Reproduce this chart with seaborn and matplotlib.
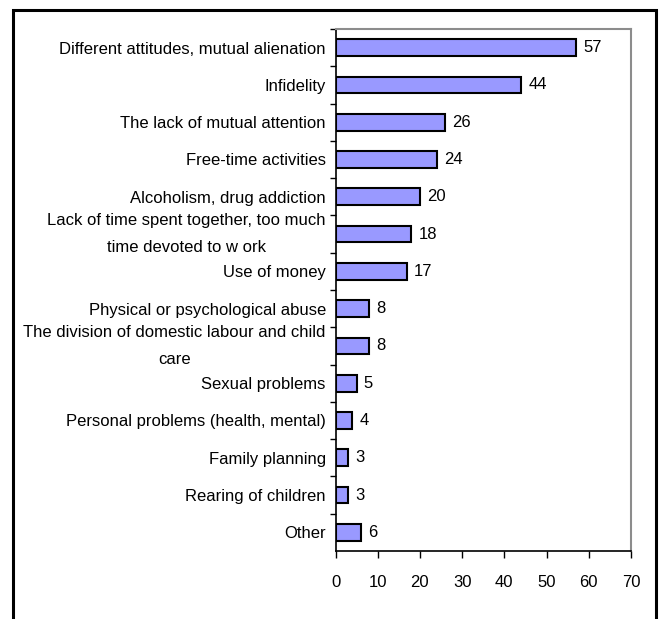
import matplotlib
matplotlib.use("Agg")
import matplotlib.pyplot as plt
import matplotlib.patches as patches
import seaborn as sns
import pandas as pd
import numpy as np

categories = [
    "Different attitudes, mutual alienation",
    "Infidelity",
    "The lack of mutual attention",
    "Free-time activities",
    "Alcoholism, drug addiction",
    "Lack of time spent together, too much\ntime devoted to w ork",
    "Use of money",
    "Physical or psychological abuse",
    "The division of domestic labour and child\ncare",
    "Sexual problems",
    "Personal problems (health, mental)",
    "Family planning",
    "Rearing of children",
    "Other",
]
values = [57, 44, 26, 24, 20, 18, 17, 8, 8, 5, 4, 3, 3, 6]
xticks = [0, 10, 20, 30, 40, 50, 60, 70]

sns.set_theme(style="white")
plt.rcParams["font.family"] = ["Liberation Sans", "DejaVu Sans"]
plt.rcParams["text.color"] = "black"
plt.rcParams["xtick.color"] = "black"
plt.rcParams["ytick.color"] = "black"
plt.rcParams["axes.labelcolor"] = "black"

df = pd.DataFrame({"cat": categories, "val": values})

fig = plt.figure(figsize=(6.62, 6.19), dpi=100)
ax = fig.add_axes([0.5068, 0.1099, 0.9532 - 0.5068, 0.9532 - 0.1099])

sns.barplot(data=df, y="cat", x="val", orient="h", color="#9999FF",
            edgecolor="black", linewidth=1.5, width=0.45, saturation=1, ax=ax)

ax.set_xlim(0, 70)
ax.set_ylim(len(categories) - 0.5, -0.5)
ax.set_xticks(xticks)
ax.set_xticklabels([str(t) for t in xticks], fontsize=12)
ax.set_xlabel("")
ax.set_ylabel("")
ax.tick_params(axis="x", which="major", direction="out", length=5, width=1, pad=12, color="black", bottom=True)
ax.tick_params(axis="y", which="major", length=0, pad=7)
ax.set_yticks(np.arange(len(categories)) - 0.5, minor=True)
ax.tick_params(axis="y", which="minor", direction="out", length=4, width=1, color="black", left=True)
for lbl in ax.get_yticklabels():
    lbl.set_fontsize(12)
    lbl.set_color("black")
    if "\n" in lbl.get_text():
        lbl.set_multialignment("center")
        lbl.set_linespacing(2.0)
        lbl.set_verticalalignment("center")

for c in ax.containers:
    ax.bar_label(c, padding=5, fontsize=12, color="black")

for s in ["left", "bottom"]:
    ax.spines[s].set_color("black")
    ax.spines[s].set_linewidth(1.2)
for s in ["top", "right"]:
    ax.spines[s].set_color("#8c8c8c")
    ax.spines[s].set_linewidth(1.5)
    ax.spines[s].set_visible(True)

border = patches.Rectangle((12.5 / 662, -0.05), (655.5 - 12.5) / 662, 1.05 - 9.5 / 619,
                           transform=fig.transFigure, fill=False, edgecolor="black",
                           linewidth=2.2, clip_on=False)
fig.patches.append(border)

fig.savefig("out.png", dpi=100)
